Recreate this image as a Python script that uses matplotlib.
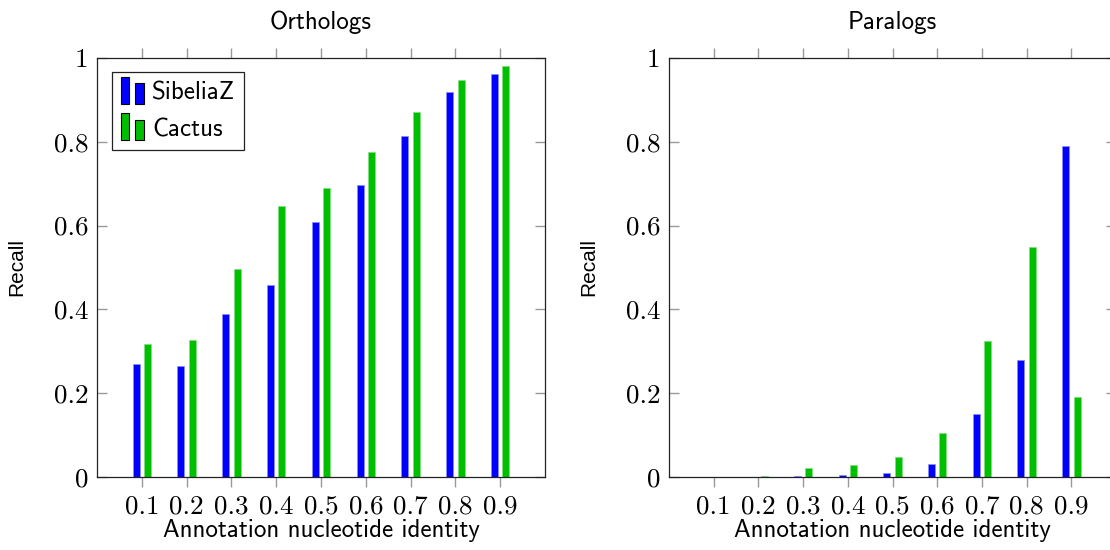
# Recall per annotation identity bin, SibeliaZ vs Cactus (orthologs / paralogs)

import numpy as np
import matplotlib
matplotlib.use('Agg')
import matplotlib.pyplot as plt
from matplotlib.patches import Rectangle
from matplotlib.legend_handler import HandlerBase


# data
identity = [0.1, 0.2, 0.3, 0.4, 0.5, 0.6, 0.7, 0.8, 0.9]
ortho_sibeliaz = [0.270, 0.265, 0.390, 0.458, 0.608, 0.697, 0.814, 0.919, 0.962]
ortho_cactus = [0.317, 0.327, 0.496, 0.647, 0.690, 0.776, 0.871, 0.947, 0.981]
para_sibeliaz = [0.0, 0.0005, 0.002, 0.005, 0.010, 0.031, 0.151, 0.279, 0.790]
para_cactus = [0.001, 0.003, 0.021, 0.028, 0.048, 0.105, 0.325, 0.549, 0.191]
ytick_vals = [0, 0.2, 0.4, 0.6, 0.8, 1]
ytick_labels = ['0', '0.2', '0.4', '0.6', '0.8', '1']

BLUE = '#0000ff'
GREEN = '#00bf00'
SANS = 'cmss10'
SERIF = 'cmr10'


# legend handle like pgfplots ybar legend: two little bars
class TwoBars(HandlerBase):
    def create_artists(self, legend, orig_handle, xdescent, ydescent,
                       width, height, fontsize, trans):
        fc = orig_handle.get_facecolor()
        w = 0.36 * width
        r1 = Rectangle((-xdescent, -ydescent - 0.1 * height), w, 1.3 * height,
                       facecolor=fc, edgecolor='black', lw=0.8, transform=trans)
        r2 = Rectangle((-xdescent + 0.62 * width, -ydescent - 0.1 * height), w, 0.98 * height,
                       facecolor=fc, edgecolor='black', lw=0.8, transform=trans)
        return [r1, r2]


def setup_axis(ax, title):
    ax.set_xlim(0, 1)
    ax.set_ylim(0, 1)
    ax.set_xticks(identity)
    ax.set_xticklabels([str(v) for v in identity], fontfamily=SERIF, fontsize=19.5)
    ax.set_yticks(ytick_vals)
    ax.set_yticklabels(ytick_labels, fontfamily=SERIF, fontsize=19.5)
    ax.xaxis.set_ticks_position('both')
    ax.yaxis.set_ticks_position('both')
    ax.tick_params(axis='x', direction='out', length=7, width=1, color='#999999', pad=6)
    ax.tick_params(axis='y', direction='in', length=7, width=1, color='#999999', pad=6)
    for s in ax.spines.values():
        s.set_linewidth(0.9)
        s.set_color('#222222')
    ax.set_title(title, fontfamily=SANS, fontsize=18, pad=21)
    ax.set_xlabel('Annotation nucleotide identity', fontfamily=SANS, fontsize=18, labelpad=0)
    ax.set_ylabel('Recall', fontfamily='Liberation Sans', fontsize=15, labelpad=20)


def plot_pair(ax, s_vals, c_vals):
    x = np.array(identity)
    off = 0.0128
    bw = 0.0157
    b1 = ax.bar(x - off, s_vals, width=bw, color=BLUE, edgecolor='#8c8cff', linewidth=0.5,
                label='SibeliaZ', zorder=2)
    b2 = ax.bar(x + off, c_vals, width=bw, color=GREEN, edgecolor='#7fe07f', linewidth=0.5,
                label='Cactus', zorder=2)
    return b1, b2


fig = plt.figure(figsize=(11.1, 5.5), dpi=100)
ax1 = fig.add_axes([97 / 1110, 73 / 550, 448 / 1110, 419 / 550])
ax2 = fig.add_axes([669 / 1110, 73 / 550, 447 / 1110, 419 / 550])

b1, b2 = plot_pair(ax1, ortho_sibeliaz, ortho_cactus)
plot_pair(ax2, para_sibeliaz, para_cactus)
setup_axis(ax1, 'Orthologs')
setup_axis(ax2, 'Paralogs')

leg = ax1.legend([b1.patches[0], b2.patches[0]], ['SibeliaZ', 'Cactus'],
                 handler_map={Rectangle: TwoBars()},
                 loc='upper left', bbox_to_anchor=(0.0335, 0.9666), borderaxespad=0,
                 prop={'family': SANS, 'size': 18}, fancybox=False, framealpha=1,
                 edgecolor='#222222', handlelength=0.95, handleheight=0.9,
                 handletextpad=0.3, labelspacing=0.5, borderpad=0.35)
leg.get_frame().set_linewidth(0.9)

fig.savefig('out.png', dpi=100)
